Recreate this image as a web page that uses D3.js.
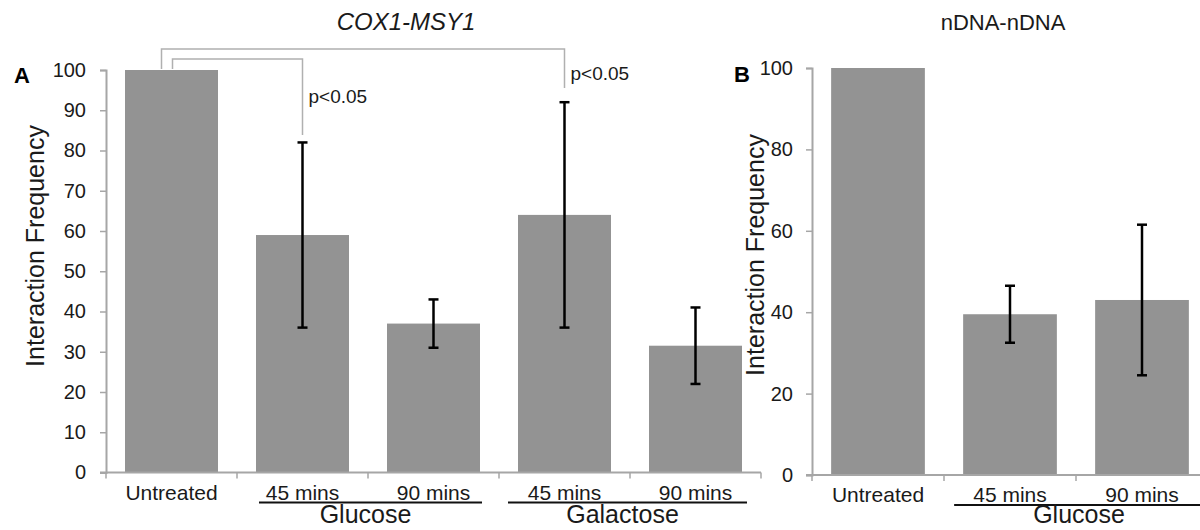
<!DOCTYPE html>
<html>
<head>
<meta charset="utf-8">
<script src="https://cdn.jsdelivr.net/npm/d3@7"></script>
<style>
  body { margin: 0; background: #fff; }
  svg { font-family: "Liberation Sans", Arial, sans-serif; }
</style>
</head>
<body>
<div id="chart"></div>
<script>
// panel A: COX1-MSY1
const keysA = ["untreated", "glu45", "glu90", "gal45", "gal90"];
const labelsA = ["Untreated", "45 mins", "90 mins", "45 mins", "90 mins"];
const valuesA = [100, 59, 37, 64, 31.5];
const errA = [0, 23, 6, 28, 9.5];
const ticksA = [0, 10, 20, 30, 40, 50, 60, 70, 80, 90, 100];
const groupsA = [["Glucose", "glu45", "glu90"], ["Galactose", "gal45", "gal90"]];
const pairsA = [["untreated", "glu45", "p<0.05"], ["untreated", "gal45", "p<0.05"]];

// panel B: nDNA-nDNA
const keysB = ["untreated", "glu45", "glu90"];
const labelsB = ["Untreated", "45 mins", "90 mins"];
const valuesB = [100, 39.5, 43];
const errB = [0, 7, 18.5];
const ticksB = [0, 20, 40, 60, 80, 100];
const groupsB = [["Glucose", "glu45", "glu90"]];

const width = 1200, height = 530;
const axisCol = "#a6a6a6", barCol = "#939393", txt = "#1a1a1a";

const svg = d3.select("#chart").append("svg")
  .attr("width", width).attr("height", height);

function panel(opt) {
  const x = d3.scaleBand().domain(opt.keys).range(opt.xr).paddingInner(0.29).paddingOuter(0.145);
  const y = d3.scaleLinear().domain([0, 100]).range(opt.yr);
  const g = svg.append("g");
  const x0 = opt.xr[0];

  // bars
  g.selectAll("rect.bar").data(opt.keys).enter().append("rect")
    .attr("x", d => x(d)).attr("width", x.bandwidth())
    .attr("y", (d, i) => y(opt.values[i]))
    .attr("height", (d, i) => y(0) - y(opt.values[i]))
    .attr("fill", barCol);

  // y axis
  const ya = g.append("g").attr("transform", `translate(${x0},0)`)
    .call(d3.axisLeft(y).tickValues(opt.ticks).tickSize(6).tickPadding(opt.tickPad).tickSizeOuter(6));
  ya.select(".domain").attr("stroke", axisCol).attr("stroke-width", 2);
  ya.selectAll(".tick line").attr("stroke", axisCol).attr("stroke-width", 1.5);
  ya.selectAll(".tick text").attr("fill", txt).style("font-size", "20px");

  // x axis line and band ticks
  g.append("line").attr("x1", x0 - 6).attr("x2", opt.xr[1])
    .attr("y1", y(0)).attr("y2", y(0)).attr("stroke", axisCol).attr("stroke-width", 2);
  const bounds = opt.keys.map(k => x(k) - x.step() * 0.145).concat([opt.xr[1]]);
  g.selectAll("line.xt").data(bounds).enter().append("line")
    .attr("x1", d => d).attr("x2", d => d)
    .attr("y1", y(0)).attr("y2", y(0) + 6)
    .attr("stroke", axisCol).attr("stroke-width", 1.5);

  // error bars
  opt.keys.forEach((k, i) => {
    if (!opt.err[i]) return;
    const cx = x(k) + x.bandwidth() / 2;
    const lo = y(opt.values[i] - opt.err[i]), hi = y(opt.values[i] + opt.err[i]);
    g.append("line").attr("x1", cx).attr("x2", cx).attr("y1", lo).attr("y2", hi)
      .attr("stroke", "#000").attr("stroke-width", 2.5);
    [lo, hi].forEach(v => g.append("line").attr("x1", cx - 5).attr("x2", cx + 5)
      .attr("y1", v).attr("y2", v).attr("stroke", "#000").attr("stroke-width", 2.5));
  });

  // category labels
  g.selectAll("text.cat").data(opt.keys).enter().append("text")
    .attr("x", d => x(d) + x.bandwidth() / 2).attr("y", y(0) + 27)
    .attr("text-anchor", "middle").attr("fill", txt).style("font-size", "21px")
    .text((d, i) => opt.labels[i]);

  // group underlines and names
  opt.groups.forEach((gr, i) => {
    const pad = opt.ulPad[i];
    const x1 = x(gr[1]) + pad[0], x2 = x(gr[2]) + x.bandwidth() + pad[1];
    g.append("line").attr("x1", x1).attr("x2", x2)
      .attr("y1", y(0) + 30).attr("y2", y(0) + 30)
      .attr("stroke", "#111").attr("stroke-width", 2);
    g.append("text").attr("x", (x1 + x2) / 2 - 5).attr("y", 523)
      .attr("text-anchor", "middle").attr("fill", txt).style("font-size", "25px")
      .text(gr[0]);
  });

  // y title
  g.append("text")
    .attr("transform", `translate(${opt.titleX},${opt.titleY}) rotate(-90)`)
    .attr("text-anchor", "middle").attr("fill", txt).style("font-size", "25px")
    .text("Interaction Frequency");

  // panel letter and title
  g.append("text").attr("x", opt.letterX).attr("y", opt.letterY)
    .attr("fill", "#000").style("font-size", "22px").style("font-weight", "bold")
    .text(opt.letter);
  g.append("text").attr("x", opt.headX).attr("y", 30)
    .attr("text-anchor", "middle").attr("fill", txt).style("font-size", opt.headSize)
    .style("font-style", opt.italic ? "italic" : "normal")
    .text(opt.head);

  return { x, y, g };
}

const A = panel({
  keys: keysA, labels: labelsA, values: valuesA, err: errA, ticks: ticksA, groups: groupsA,
  xr: [106, 761], yr: [472.5, 70], tickPad: 14, ulPad: [[3, 2], [-10, 5]],
  titleX: 44, titleY: 246, letter: "A", letterX: 14, letterY: 83,
  head: "COX1-MSY1", headX: 406, headSize: "24px", italic: true
});

panel({
  keys: keysB, labels: labelsB, values: valuesB, err: errB, ticks: ticksB, groups: groupsB,
  xr: [812, 1208], yr: [475, 68], tickPad: 13, ulPad: [[-9, 25]],
  titleX: 764, titleY: 255, letter: "B", letterX: 734, letterY: 82,
  head: "nDNA-nDNA", headX: 1003, headSize: "22px", italic: false
});

// significance brackets for panel A
const brk = [{ top: 59, drop: 135, dx: 1, ty: 103 }, { top: 49, drop: 88, dx: -10, ty: 80 }];
pairsA.forEach((p, i) => {
  const cx = k => A.x(k) + A.x.bandwidth() / 2;
  const b = brk[i];
  const x1 = cx(p[0]) + b.dx, x2 = cx(p[1]);
  A.g.append("path")
    .attr("d", `M${x1},${A.y(100) - 1}V${b.top}H${x2}V${b.drop}`)
    .attr("fill", "none").attr("stroke", "#b0b0b0").attr("stroke-width", 1.5);
  A.g.append("text").attr("x", x2 + 6).attr("y", b.ty)
    .attr("fill", txt).style("font-size", "19px").text(p[2]);
});
</script>
</body>
</html>
